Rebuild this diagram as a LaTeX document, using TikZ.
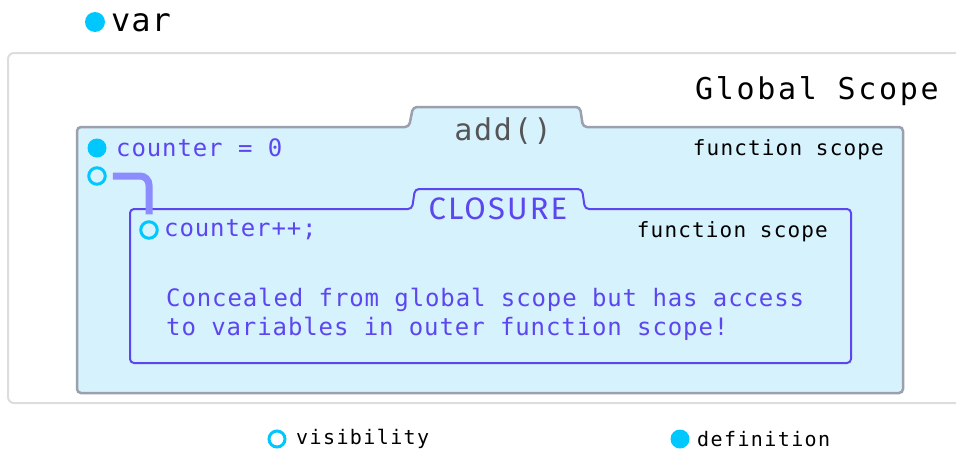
\documentclass[tikz,border=0pt]{standalone}
\usepackage{fontspec}
\setmainfont{DejaVu Sans Mono}
\newfontfamily\monofam{DejaVu Sans Mono}
\newfontfamily\sansfam{Fira Sans}
\definecolor{dotcyan}{RGB}{0,200,255}
\definecolor{scopefill}{RGB}{214,242,253}
\definecolor{addborder}{RGB}{155,160,172}
\definecolor{globalborder}{RGB}{221,221,221}
\definecolor{closurecol}{RGB}{92,70,240}
\definecolor{linkcol}{RGB}{140,140,255}
\definecolor{addtext}{RGB}{85,85,85}
\tikzset{
  filldot/.style={circle,fill=dotcyan,draw=none,minimum size=#1,inner sep=0},
  opendot/.style={circle,draw=dotcyan,line width=3pt,fill=none,minimum size=#1,inner sep=0},
  codetxt/.style={text=closurecol,inner sep=0,font=\monofam\fontsize{24}{29}\selectfont\addfontfeature{LetterSpace=3.7}},
  fstxt/.style={text=black,inner sep=0,font=\monofam\fontsize{21}{24}\selectfont\addfontfeature{LetterSpace=5.5}},
  legtxt/.style={text=black,inner sep=0,font=\monofam\fontsize{20}{24}\selectfont\addfontfeature{LetterSpace=7}},
}
\begin{document}
\begin{tikzpicture}[x=1pt,y=-1pt]
\useasboundingbox (0,0) rectangle (956,450);
\begin{scope}
\clip (0,0) rectangle (956,450);
% global scope
\draw[globalborder,line width=2pt,rounded corners=6pt] (970,53) -- (8,53) -- (8,403) -- (970,403);
\end{scope}
% add() function scope
\draw[addborder,fill=scopefill,line width=2.5pt,rounded corners=4pt]
  (77,127) -- (409,127) -- (413,107) -- (580,107) -- (583,127) -- (903,127) -- (903,393) -- (77,393) -- cycle;
% closure scope
\draw[closurecol,fill=scopefill,line width=2pt,rounded corners=4pt]
  (130,209) -- (412,209) -- (415,189) -- (582,189) -- (585,209) -- (851,209) -- (851,363) -- (130,363) -- cycle;

% top var
\node[filldot=20pt] (vardot) at (95,22) {};
\node[anchor=west,inner sep=0,font=\monofam\fontsize{32}{36}\selectfont\addfontfeature{LetterSpace=3}] (var) at (111,23) {var};

% Global scope label
\node[anchor=east,inner sep=0,font=\monofam\fontsize{30}{36}\selectfont\addfontfeature{LetterSpace=9}] (global) at (939,91) {Global Scope};

% add() label
\node[text=addtext,inner sep=0,font=\monofam\fontsize{30}{34}\selectfont\addfontfeature{LetterSpace=6}] (addlbl) at (503,131) {add()};
\node[fstxt,anchor=east] (fs1) at (884,150) {function scope};
\node[filldot=19pt] (defdot) at (97,148) {};
\node[codetxt,anchor=west] (counter) at (116,148) {counter = 0};
\node[opendot=16.5pt] (vis1) at (97,176) {};

% closure label
\node[text=closurecol,inner sep=0,font=\sansfam\fontsize{31}{34}\selectfont\addfontfeature{LetterSpace=7}] (closlbl) at (498,209) {CLOSURE};
\node[fstxt,anchor=east] (fs2) at (828,232) {function scope};
\node[opendot=16.5pt] (vis2) at (149,230) {};
\node[codetxt,anchor=west] (cplus) at (164,230) {counter++;};
\node[codetxt,anchor=west,align=left] (conc) at (166,314) {Concealed from global scope but has access\\to variables in outer function scope!};

% connector
\draw[linkcol,line width=7pt,rounded corners=9pt] ([xshift=6pt]vis1.east) -| ([yshift=6pt]vis2.north);

% legend
\node[opendot=16pt] (legvis) at (277,439) {};
\node[legtxt,anchor=west] (legvistxt) at (296,439) {visibility};
\node[filldot=19pt] (legdef) at (680,439) {};
\node[legtxt,anchor=west] (legdeftxt) at (697,439) {definition};
\end{tikzpicture}
\end{document}
